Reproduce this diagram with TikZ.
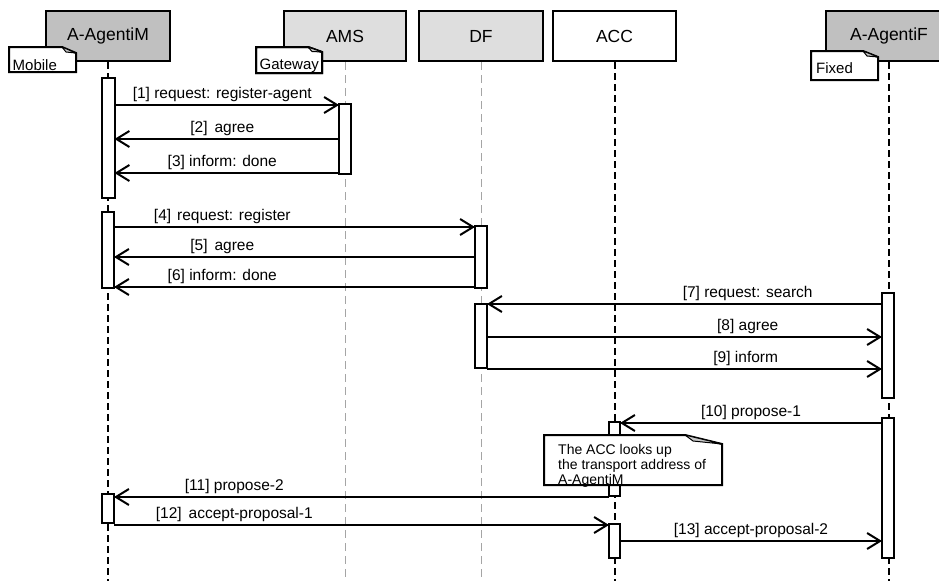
\documentclass[tikz,border=0pt]{standalone}
\usepackage{fontspec}
\setmainfont{Liberation Sans}
\usetikzlibrary{arrows.meta}
\definecolor{hdrdark}{RGB}{192,192,192}
\definecolor{hdrlight}{RGB}{222,222,222}
\definecolor{lifegray}{RGB}{165,165,165}
\definecolor{foldgray}{RGB}{200,200,200}
\begin{document}
\begin{tikzpicture}[x=1pt,y=-1pt,
  hdr/.style={draw=black, line width=2pt, minimum height=50pt, inner sep=0pt, font=\fontsize{17.5}{20}\selectfont},
  lifeB/.style={draw=black, line width=2pt, dash pattern=on 7pt off 4pt},
  lifeG/.style={draw=lifegray, line width=1pt, dash pattern=on 8pt off 5pt},
  act/.style={draw=black, fill=white, line width=2pt, minimum width=10pt, inner sep=0pt},
  msg/.style={draw=black, line width=2pt, -{Straight Barb[length=13pt,width=16pt]}},
  lbl/.style={anchor=base, yshift=7pt, inner sep=0pt, font=\fontsize{15.5}{18}\selectfont},
  notebox/.style={draw=black, fill=white, line width=2pt, line join=miter},
  notefold/.style={draw=black, fill=foldgray, line width=1pt, line join=round},
  notetxt/.style={anchor=base west, inner sep=0pt, font=\fontsize{15}{18}\selectfont},
  bignotetxt/.style={anchor=base west, inner sep=0pt, font=\fontsize{14}{15}\selectfont},
]
\clip (0,0) rectangle (939,581);
\fill[white] (0,0) rectangle (939,581);
\coordinate (bot) at (0,581);
% headers
\node[hdr, fill=hdrdark, minimum width=124pt] (hM) at (108,36) {A-AgentiM};
\node[hdr, fill=hdrlight, minimum width=122pt] (hAMS) at (345,36) {AMS};
\node[hdr, fill=hdrlight, minimum width=124pt] (hDF) at (481,36) {DF};
\node[hdr, fill=white, minimum width=123pt] (hACC) at (614.5,36) {ACC};
\node[hdr, fill=hdrdark, minimum width=126pt] (hF) at (889,36) {A-AgentiF};
% lifelines
\draw[lifeB] (hM.south) -- (hM.south |- bot);
\draw[lifeG] (hAMS.south) -- (hAMS.south |- bot);
\draw[lifeG] (hDF.south) -- (hDF.south |- bot);
\draw[lifeB] (hACC.south) -- (hACC.south |- bot);
\draw[lifeB] (hF.south) -- (hF.south |- bot);
% small notes
\draw[notebox] (9,47) -- (62,47) -- (76,53) -- (76,72) -- (9,72) -- cycle;
\draw[notefold] (62,47) -- (66,52) -- (76,53) -- cycle;
\node[notetxt] (tMobile) at (12.5,70) {Mobile};
\draw[notebox] (256,47) -- (308,47) -- (322,52) -- (322,73) -- (256,73) -- cycle;
\begin{scope}
\clip (256,47) -- (308,47) -- (322,52) -- (322,73) -- (256,73) -- cycle;
\node[notetxt] (tGateway) at (259.5,69.5) {Gateway};
\end{scope}
\draw[notebox, fill=none] (256,47) -- (308,47) -- (322,52) -- (322,73) -- (256,73) -- cycle;
\draw[notefold] (308,47) -- (312,51.5) -- (322,52) -- cycle;
\draw[notebox] (811,51) -- (863,51) -- (878,57) -- (878,80) -- (811,80) -- cycle;
\draw[notefold] (863,51) -- (867,56) -- (878,57) -- cycle;
\node[notetxt] (tFixed) at (816,73) {Fixed};
% message y positions
\coordinate (y1) at (0,105);
\coordinate (y2) at (0,139);
\coordinate (y3) at (0,173);
\coordinate (y4) at (0,227);
\coordinate (y5) at (0,257);
\coordinate (y6) at (0,287);
\coordinate (y7) at (0,304);
\coordinate (y8) at (0,337);
\coordinate (y9) at (0,369);
\coordinate (y10) at (0,423);
\coordinate (y11) at (0,497);
\coordinate (y12) at (0,525);
\coordinate (y13) at (0,541);
% activations (placement only, drawn later)
\path node[act, draw=none, fill=none, minimum width=11pt, minimum height=118pt] (aM1) at (108,138) {}
      node[act, draw=none, fill=none, minimum height=68pt] (aAMS) at (345,139) {}
      node[act, draw=none, fill=none, minimum height=74pt] (aM2) at (108,250) {}
      node[act, draw=none, fill=none, minimum height=60pt] (aDF1) at (481,257) {}
      node[act, draw=none, fill=none, minimum height=62pt] (aDF2) at (481,336) {}
      node[act, draw=none, fill=none, minimum height=103pt] (aF1) at (888,345.5) {}
      node[act, draw=none, fill=none, minimum width=9pt, minimum height=72pt] (aACC1) at (614.5,459) {}
      node[act, draw=none, fill=none, minimum height=27pt] (aM3) at (108,508.5) {}
      node[act, draw=none, fill=none, minimum width=9pt, minimum height=32pt] (aACC2) at (614.5,541) {}
      node[act, draw=none, fill=none, minimum height=138pt] (aF2) at (888,488) {};
% messages
\draw[msg] (aM1.east |- y1) -- node[lbl,pos=0.48] (l1) {[1] request: register-agent} (aAMS.west |- y1);
\draw[msg] (aAMS.west |- y2) -- node[lbl,pos=0.52] (l2) {[2]\hskip7pt agree} (aM1.east |- y2);
\draw[msg] (aAMS.west |- y3) -- node[lbl,pos=0.52] (l3) {[3] inform: done} (aM1.east |- y3);
\draw[msg] (aM2.east |- y4) -- node[lbl,pos=0.30] (l4) {[4]\hskip6pt request: register} (aDF1.west |- y4);
\draw[msg] (aDF1.west |- y5) -- node[lbl,pos=0.70] (l5) {[5]\hskip7pt agree} (aM2.east |- y5);
\draw[msg] (aDF1.west |- y6) -- node[lbl,pos=0.70] (l6) {[6] inform: done} (aM2.east |- y6);
\draw[msg] (aF1.west |- y7) -- node[lbl,pos=0.34] (l7) {[7] request: search} (aDF2.east |- y7);
\draw[msg] (aDF2.east |- y8) -- node[lbl,pos=0.66] (l8) {[8] agree} (aF1.west |- y8);
\draw[msg] (aDF2.east |- y9) -- node[lbl,pos=0.655] (l9) {[9] inform} (aF1.west |- y9);
\draw[msg] (aF2.west |- y10) -- node[lbl,pos=0.50] (l10) {[10] propose-1} (aACC1.east |- y10);
\draw[msg] (aACC1.west |- y11) -- node[lbl,pos=0.757] (l11) {[11] propose-2} (aM3.east |- y11);
\draw[msg] (aM3.east |- y12) -- node[lbl,pos=0.243] (l12) {[12]\hskip7pt accept-proposal-1} (aACC2.west |- y12);
\draw[msg] (aACC2.east |- y13) -- node[lbl,pos=0.50] (l13) {[13] accept-proposal-2} (aF2.west |- y13);
% activations drawn on top
\foreach \a in {aM1,aAMS,aM2,aDF1,aDF2,aF1,aACC1,aM3,aACC2,aF2}
  \draw[draw=black, fill=white, line width=2pt] (\a.north west) rectangle (\a.south east);
% big note
\draw[notebox] (544,435) -- (685,435) -- (722,444) -- (722,485) -- (544,485) -- cycle;
\draw[notefold] (685,435) -- (693,441) -- (722,444) -- cycle;
\node[bignotetxt] (n1) at (558,454) {The ACC looks up};
\node[bignotetxt] (n2) at (558,469) {the transport address of};
\node[bignotetxt] (n3) at (558,484) {A-AgentiM};
\end{tikzpicture}
\end{document}
